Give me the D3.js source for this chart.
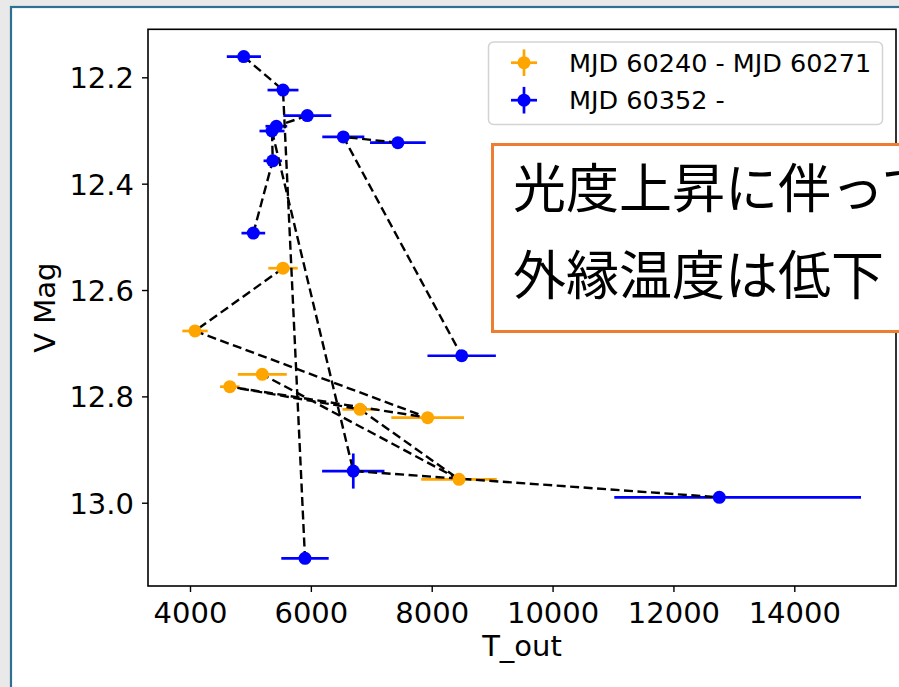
<!DOCTYPE html>
<html>
<head>
<meta charset="utf-8">
<script src="https://cdn.jsdelivr.net/npm/d3@7"></script>
<style>
  html, body { margin: 0; padding: 0; background: #e9e9e9; overflow: hidden; }
  svg { display: block; }
</style>
</head>
<body>
<svg id="chart" width="899" height="687"></svg>
<script>
// ---------------- DATA ----------------
const seriesNames = ["MJD 60240 - MJD 60271", "MJD 60352 -"];
const seriesColors = ["orange", "blue"];

// Series 1 (orange): MJD 60240 - MJD 60271
const orangeT      = [5539, 4083, 5196, 4659, 6813, 7933, 8451];
const orangeMag    = [12.559, 12.677, 12.7585, 12.7818, 12.8243, 12.840, 12.956];
const orangeTErrLo = [243, 210, 405, 162, 290, 601, 625];
const orangeTErrHi = [243, 210, 405, 162, 290, 601, 625];
const orangeMagErr = [0.006, 0.006, 0.006, 0.006, 0.006, 0.006, 0.006];

// Series 2 (blue): MJD 60352 -
const blueT      = [4889, 5539, 5941, 5429, 5357, 6537, 7440, 5369, 5048, 8496, 6702, 5903, 12759];
const blueMag    = [12.161, 12.224, 12.272, 12.292, 12.301, 12.312, 12.323, 12.357, 12.493, 12.7236, 12.9404, 13.1046, 12.9898];
const blueTErrLo = [280, 256, 397, 180, 207, 348, 461, 152, 196, 566, 516, 392, 1738];
const blueTErrHi = [285, 256, 397, 180, 207, 348, 461, 152, 196, 566, 516, 392, 2345];
const blueMagErr = [0.008, 0.008, 0.008, 0.008, 0.008, 0.008, 0.008, 0.008, 0.008, 0.008, 0.033, 0.008, 0.008];

// Dashed connecting chains: [series index, point index]
const chains = [
  [[1,0],[1,1],[1,11]],
  [[1,2],[1,3],[1,4],[1,7],[1,8]],
  [[1,4],[1,10],[1,12]],
  [[1,6],[1,5],[1,9]],
  [[0,0],[0,1],[0,5],[0,3],[0,4],[0,6],[0,2]]
];

const xTicks = [4000, 6000, 8000, 10000, 12000, 14000];
const yTicks = [12.2, 12.4, 12.6, 12.8, 13.0];
const xLabel = "T_out";
const yLabel = "V Mag";
const noteLines = ["光度上昇に伴って", "外縁温度は低下"];

// ---------------- DRAW ----------------
const svg = d3.select("#chart");
const FONT = "'DejaVu Sans', sans-serif";

// slide frame
svg.append("rect").attr("x", 0).attr("y", 0).attr("width", 899).attr("height", 687).attr("fill", "#e9e9e9");
svg.append("rect").attr("x", 11).attr("y", 7).attr("width", 1000).attr("height", 800)
  .attr("fill", "#ffffff").attr("stroke", "#2f6f93").attr("stroke-width", 2.2);

const L = 148, R = 896, T = 29.3, B = 586;
const x = d3.scaleLinear().domain([3305, 15683]).range([L, R]);
const y = d3.scaleLinear().domain([12.1097, 13.1566]).range([T, B]);

const series = [
  {t: orangeT, m: orangeMag, lo: orangeTErrLo, hi: orangeTErrHi, me: orangeMagErr},
  {t: blueT, m: blueMag, lo: blueTErrLo, hi: blueTErrHi, me: blueMagErr}
];

// error bars
series.forEach((s, si) => {
  const g = svg.append("g");
  s.t.forEach((tv, i) => {
    g.append("line")
      .attr("x1", x(tv - s.lo[i])).attr("x2", x(tv + s.hi[i]))
      .attr("y1", y(s.m[i])).attr("y2", y(s.m[i]))
      .attr("stroke", seriesColors[si]).attr("stroke-width", 2.7);
    g.append("line")
      .attr("x1", x(tv)).attr("x2", x(tv))
      .attr("y1", y(s.m[i] - s.me[i])).attr("y2", y(s.m[i] + s.me[i]))
      .attr("stroke", seriesColors[si]).attr("stroke-width", 2.7);
  });
});

// dashed lines
const lineGen = d3.line().x(d => x(series[d[0]].t[d[1]])).y(d => y(series[d[0]].m[d[1]]));
chains.forEach(c => {
  svg.append("path").attr("d", lineGen(c)).attr("fill", "none")
    .attr("stroke", "#000").attr("stroke-width", 2.4).attr("stroke-dasharray", "9,4.5");
});

// markers
series.forEach((s, si) => {
  svg.append("g").selectAll("circle").data(s.t).join("circle")
    .attr("cx", (d) => x(d)).attr("cy", (d, i) => y(s.m[i])).attr("r", 6.5)
    .attr("fill", seriesColors[si]);
});

// spines
svg.append("rect").attr("x", L).attr("y", T).attr("width", R - L).attr("height", B - T)
  .attr("fill", "none").attr("stroke", "#000").attr("stroke-width", 1.6);

// axes
const xAxis = svg.append("g").attr("transform", `translate(0,${B})`)
  .call(d3.axisBottom(x).tickValues(xTicks).tickFormat(d3.format("d")).tickSize(6).tickSizeOuter(0).tickPadding(10));
const yAxis = svg.append("g").attr("transform", `translate(${L},0)`)
  .call(d3.axisLeft(y).tickValues(yTicks).tickFormat(d3.format(".1f")).tickSize(6).tickSizeOuter(0).tickPadding(8));
[xAxis, yAxis].forEach(a => {
  a.select(".domain").remove();
  a.selectAll(".tick line").attr("stroke", "#000").attr("stroke-width", 1.4);
  a.selectAll(".tick text").attr("fill", "#000").style("font-family", FONT).style("font-size", "29px");
});
yAxis.selectAll(".tick text").attr("dy", "0.36em");

svg.append("text").attr("x", (L + R) / 2).attr("y", 656).attr("text-anchor", "middle")
  .style("font-family", FONT).style("font-size", "29px").text(xLabel);
svg.append("text").attr("transform", `translate(55,${(T + B) / 2}) rotate(-90)`).attr("text-anchor", "middle")
  .style("font-family", FONT).style("font-size", "29px").text(yLabel);

// legend
const lg = svg.append("g");
lg.append("rect").attr("x", 488.5).attr("y", 42).attr("width", 394).attr("height", 82.5).attr("rx", 5)
  .attr("fill", "#fff").attr("fill-opacity", 0.85).attr("stroke", "#d3d3d3").attr("stroke-width", 1.5);
seriesNames.forEach((name, i) => {
  const cy = 62.7 + i * 37.5;
  lg.append("line").attr("x1", 511).attr("x2", 537).attr("y1", cy).attr("y2", cy)
    .attr("stroke", seriesColors[i]).attr("stroke-width", 2.7);
  lg.append("line").attr("x1", 524).attr("x2", 524).attr("y1", cy - 13.3).attr("y2", cy + 13.3)
    .attr("stroke", seriesColors[i]).attr("stroke-width", 2.7);
  lg.append("circle").attr("cx", 524).attr("cy", cy).attr("r", 6.5).attr("fill", seriesColors[i]);
  lg.append("text").attr("x", 569).attr("y", cy + 9.2)
    .style("font-family", FONT).style("font-size", "25.5px").attr("fill", "#000").text(name);
});

// annotation box
svg.append("rect").attr("x", 492.5).attr("y", 144.5).attr("width", 600).attr("height", 187)
  .attr("fill", "#fff").attr("stroke", "#ed7d31").attr("stroke-width", 3);
noteLines.forEach((t, i) => {
  svg.append("text").attr("x", 513).attr("y", 208 + i * 87)
    .style("font-family", "'Noto Sans CJK JP', sans-serif").style("font-size", "53px")
    .attr("fill", "#000").text(t);
});
</script>
</body>
</html>
